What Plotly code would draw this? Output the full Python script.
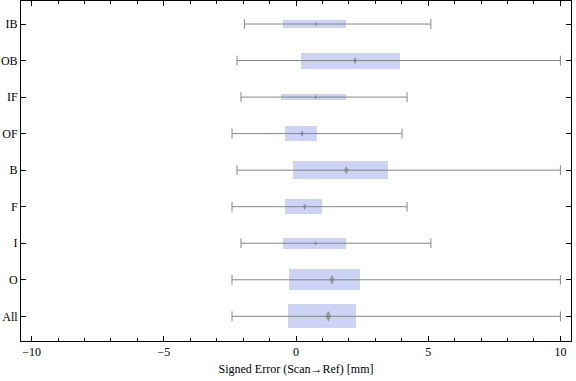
import plotly.graph_objects as go

# Categories from bottom to top
categories = ["All", "O", "I", "F", "B", "OF", "IF", "OB", "IB"]
whisker_low = [-2.42, -2.42, -2.08, -2.42, -2.23, -2.42, -2.08, -2.23, -1.95]
q1 = [-0.31, -0.25, -0.50, -0.43, -0.12, -0.43, -0.58, 0.18, -0.49]
median = [1.22, 1.36, 0.74, 0.33, 1.90, 0.23, 0.74, 2.23, 0.74]
q3 = [2.28, 2.43, 1.88, 0.97, 3.49, 0.78, 1.88, 3.92, 1.88]
whisker_high = [10.0, 10.0, 5.10, 4.20, 10.0, 4.01, 4.20, 10.0, 5.10]
box_width = [0.65, 0.58, 0.30, 0.40, 0.49, 0.40, 0.16, 0.44, 0.21]
x_ticks = [-10, -5, 0, 5, 10]

ypos = list(range(len(categories)))

# whisker lines
wx, wy = [], []
for i, y in enumerate(ypos):
    wx += [whisker_low[i], whisker_high[i], None]
    wy += [y, y, None]

fig = go.Figure()
fig.add_trace(go.Scatter(x=wx, y=wy, mode="lines",
                         line=dict(color="#858585", width=1),
                         hoverinfo="skip", showlegend=False))
fig.add_trace(go.Scatter(x=whisker_low + whisker_high, y=ypos + ypos, mode="markers",
                         marker=dict(symbol="line-ns", size=7,
                                     line=dict(color="#858585", width=1)),
                         hoverinfo="skip", showlegend=False))
fig.add_trace(go.Bar(y=ypos, x=[b - a for a, b in zip(q1, q3)], base=q1,
                     width=box_width, orientation="h",
                     marker=dict(color="#CCD3F5", line=dict(width=0)),
                     showlegend=False))
fig.add_trace(go.Scatter(x=median, y=ypos, mode="markers",
                         marker=dict(symbol="diamond-tall",
                                     size=[max(3.5, w * 12) for w in box_width],
                                     color="#7a7a7a", line=dict(width=0)),
                         showlegend=False))

serif = "Liberation Serif, Times New Roman, serif"
fig.update_layout(
    width=576, height=381,
    margin=dict(l=21, r=5, t=1, b=40, autoexpand=False),
    paper_bgcolor="white", plot_bgcolor="white",
    font=dict(family=serif, size=12, color="black"),
    bargap=0,
    xaxis=dict(range=[-10.4, 10.4], tickvals=x_ticks, automargin=False,
               ticks="inside", ticklen=5, tickcolor="black", tickwidth=1,
               minor=dict(ticks="inside", dtick=1, ticklen=3, tickcolor="black"),
               showline=True, linecolor="black", linewidth=1, mirror="ticks",
               showgrid=False, zeroline=False,
               tickfont=dict(family=serif, size=12),
               title=dict(text="Signed Error (Scan\u2192Ref) [mm]",
                          font=dict(family=serif, size=12), standoff=6)),
    yaxis=dict(range=[-0.676, 8.63], tickvals=ypos, ticktext=categories,
               automargin=False,
               ticks="inside", ticklen=5, tickcolor="black", tickwidth=1,
               showline=True, linecolor="black", linewidth=1, mirror="ticks",
               showgrid=False, zeroline=False,
               tickfont=dict(family=serif, size=12)),
)
fig.write_html("out.html", config={"displayModeBar": False},
               post_script="document.body.style.margin='0';document.body.style.overflow='hidden';")
